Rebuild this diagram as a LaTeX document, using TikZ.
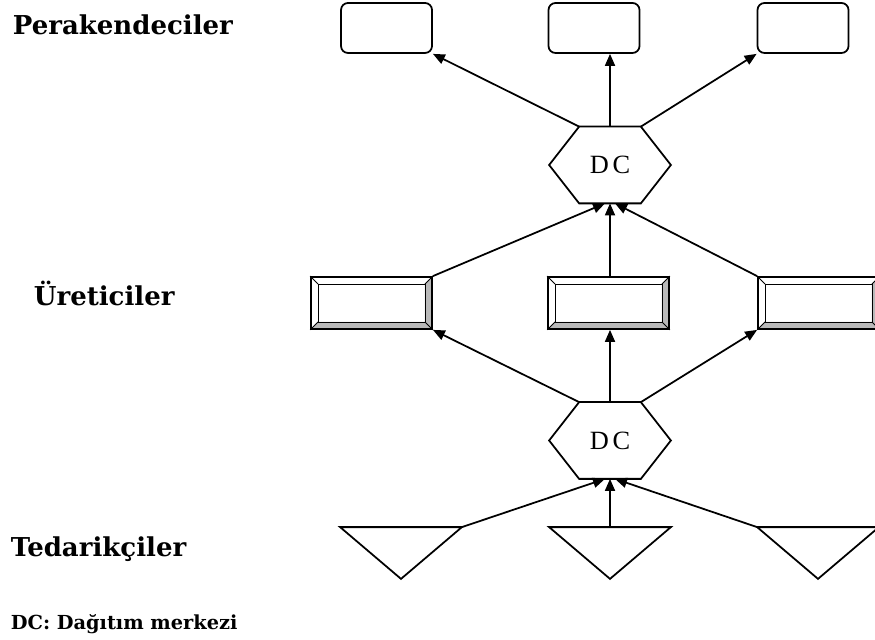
\documentclass[tikz,border=0pt]{standalone}
\usepackage{fontspec}
\setmainfont{DejaVu Serif}
\newfontfamily\dcfont[LetterSpace=14]{Liberation Serif}
\usepackage{tikz}
\usetikzlibrary{arrows.meta,backgrounds}
\tikzstyle{shop}=[draw,line width=1pt,rounded corners=0.14cm,minimum width=1.82cm,minimum height=1cm,inner sep=0pt]
\tikzstyle{plant}=[draw,line width=1pt,minimum width=2.42cm,minimum height=1.04cm,inner sep=0pt]
\tikzstyle{hub}=[minimum width=2.4cm,minimum height=1.5cm,inner sep=0pt,font=\dcfont\fontsize{15}{15}\selectfont]
\tikzstyle{supplier}=[minimum width=2.4cm,minimum height=1cm,inner sep=0pt]
\tikzstyle{tier}=[anchor=base west,inner sep=0pt,font=\bfseries\fontsize{14.8}{15}\selectfont]

\begin{document}
\begin{tikzpicture}[>={Triangle[length=0.24cm,width=0.2cm]},line width=1pt]
        \useasboundingbox (0,0) rectangle (17.5,-12.8);
        % row labels
        \node at (0.24,-0.70) [tier] (lr) {Perakendeciler};
        \node at (0.66,-6.12) [tier] (lp) {Üreticiler};
        \node at (0.20,-11.12) [tier] (ls) {Tedarikçiler};
        \node at (0.20,-12.58) [tier,font=\bfseries\fontsize{11}{11}\selectfont] (ldc) {DC: Dağıtım merkezi};
        % retailers
        \node at ( 7.73,-0.56) [shop] (r1) {};
        \node at (11.88,-0.56) [shop] (r2) {};
        \node at (16.06,-0.56) [shop] (r3) {};
        % distribution centres
        \node at (12.2,-3.30) [hub] (dc1) {DC};
        \node at (12.2,-8.81) [hub] (dc2) {DC};
        \foreach \h in {dc1,dc2}
          \draw (\h.west) -- ([xshift=0.6cm]\h.north west) -- ([xshift=-0.6cm]\h.north east)
            -- (\h.east) -- ([xshift=-0.6cm]\h.south east) -- ([xshift=0.6cm]\h.south west) -- cycle;
        % producers
        \node at ( 7.43,-6.06) [plant] (p1) {};
        \node at (12.17,-6.06) [plant] (p2) {};
        \node at (16.37,-6.06) [plant] (p3) {};
        \begin{scope}[on background layer]
          \foreach \p in {p1,p2,p3} {
            \fill[gray!55] (\p.south west) -- (\p.south east) -- (\p.north east)
              -- ([shift={(-0.16cm,-0.16cm)}]\p.north east) -- ([shift={(-0.16cm,0.16cm)}]\p.south east)
              -- ([shift={(0.16cm,0.16cm)}]\p.south west) -- cycle;
            \draw ([shift={(0.16cm,0.16cm)}]\p.south west) rectangle ([shift={(-0.16cm,-0.16cm)}]\p.north east);
            \draw[line width=0.5pt] (\p.south west) -- ++(0.16cm,0.16cm) (\p.north west) -- ++(0.16cm,-0.16cm)
              (\p.north east) -- ++(-0.16cm,-0.16cm) (\p.south east) -- ++(-0.16cm,0.16cm);
          }
        \end{scope}
        % suppliers
        \node at ( 8.02,-11.06) [supplier] (t1) {};
        \node at (12.20,-11.06) [supplier] (t2) {};
        \node at (16.36,-11.06) [supplier] (t3) {};
        \foreach \t in {t1,t2,t3}
          \draw (\t.north west) -- (\t.north east) -- (\t.south) -- cycle;
        % flows
        \draw [->] ([xshift=0.6cm]dc1.north west) to (r1.south east);
        \draw [->] (dc1.north) to (dc1.north |- r2.south);
        \draw [->] ([xshift=-0.6cm]dc1.north east) to (r3.south west);
        \draw [->] (p1.north east) to ([xshift=-0.1cm]dc1.south);
        \draw [->] (dc1.south |- p2.north) to (dc1.south);
        \draw [->] (p3.north west) to ([xshift=0.1cm]dc1.south);
        \draw [->] ([xshift=0.6cm]dc2.north west) to (p1.south east);
        \draw [->] (dc2.north) to (dc2.north |- p2.south);
        \draw [->] ([xshift=-0.6cm]dc2.north east) to (p3.south west);
        \draw [->] (t1.north east) to ([xshift=-0.1cm]dc2.south);
        \draw [->] (dc2.south |- t2.north) to (dc2.south);
        \draw [->] (t3.north west) to ([xshift=0.1cm]dc2.south);
      \end{tikzpicture}
\end{document}
